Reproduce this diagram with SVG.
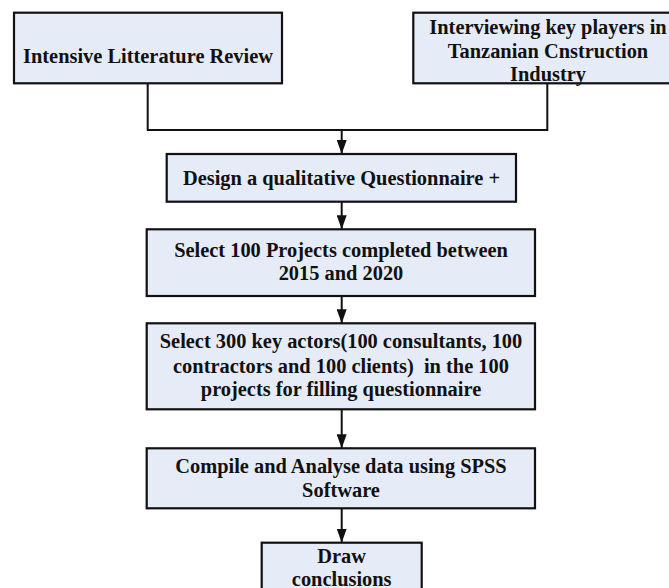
<svg xmlns="http://www.w3.org/2000/svg" width="669" height="588" viewBox="0 0 669 588">
  <defs>
    <style>
      .box { fill: #e6ecf7; stroke: #111111; stroke-width: 2.2; }
      .lbl { font-family: "Liberation Serif", "Times New Roman", serif; font-weight: bold; font-size: 20.4px; fill: #111111; text-anchor: middle; }
      .conn { fill: none; stroke: #111111; stroke-width: 2; }
    </style>
    <marker id="arr" viewBox="0 0 14 10" refX="14" refY="5" markerWidth="14" markerHeight="10" markerUnits="userSpaceOnUse" orient="auto">
      <path d="M0,0 L14,5 L0,10 Z" fill="#111111"/>
    </marker>
  </defs>
  <rect width="669" height="588" fill="#ffffff"/>

  <g id="connectors">
    <polyline class="conn" points="147.7,83.3 147.7,130 547.3,130 547.3,83.3"/>
    <line class="conn" x1="341.7" y1="130" x2="341.7" y2="154" marker-end="url(#arr)"/>
    <line class="conn" x1="341.7" y1="201.7" x2="341.7" y2="229.3" marker-end="url(#arr)"/>
    <line class="conn" x1="341.7" y1="296" x2="341.7" y2="323.3" marker-end="url(#arr)"/>
    <line class="conn" x1="341.7" y1="409.3" x2="341.7" y2="448.3" marker-end="url(#arr)"/>
    <line class="conn" x1="341.7" y1="508.3" x2="341.7" y2="542.7" marker-end="url(#arr)"/>
  </g>

  <g id="literature">
    <rect class="box" x="14" y="12.7" width="268" height="70.6"/>
    <text class="lbl" x="148" y="63">Intensive Litterature Review</text>
  </g>

  <g id="interviewing">
    <rect class="box" x="413.3" y="12.7" width="270" height="70.6"/>
    <text class="lbl" x="548" y="34">Interviewing key players in</text>
    <text class="lbl" x="548" y="57.5">Tanzanian Cnstruction</text>
    <text class="lbl" x="548" y="81">Industry</text>
  </g>

  <g id="design">
    <rect class="box" x="166.7" y="154" width="349.3" height="47.7"/>
    <text class="lbl" x="341.5" y="184.5">Design a qualitative Questionnaire +</text>
  </g>

  <g id="select100">
    <rect class="box" x="146.7" y="229.3" width="388.3" height="66.7"/>
    <text class="lbl" x="341" y="256.7">Select 100 Projects completed between</text>
    <text class="lbl" x="341" y="280">2015 and 2020</text>
  </g>

  <g id="select300">
    <rect class="box" x="146.7" y="323.3" width="388.3" height="86"/>
    <text class="lbl" x="341" y="348.3">Select 300 key actors(100 consultants, 100</text>
    <text class="lbl" x="341" y="372.5" xml:space="preserve">contractors and 100 clients)  in the 100</text>
    <text class="lbl" x="341" y="396">projects for filling questionnaire</text>
  </g>

  <g id="compile">
    <rect class="box" x="146.7" y="448.3" width="388.3" height="60"/>
    <text class="lbl" x="341" y="473.3">Compile and Analyse data using SPSS</text>
    <text class="lbl" x="341" y="496.7">Software</text>
  </g>

  <g id="conclusions">
    <rect class="box" x="261.7" y="542.7" width="160" height="60"/>
    <text class="lbl" x="341.7" y="563.3">Draw</text>
    <text class="lbl" x="341.7" y="585.5">conclusions</text>
  </g>
</svg>
